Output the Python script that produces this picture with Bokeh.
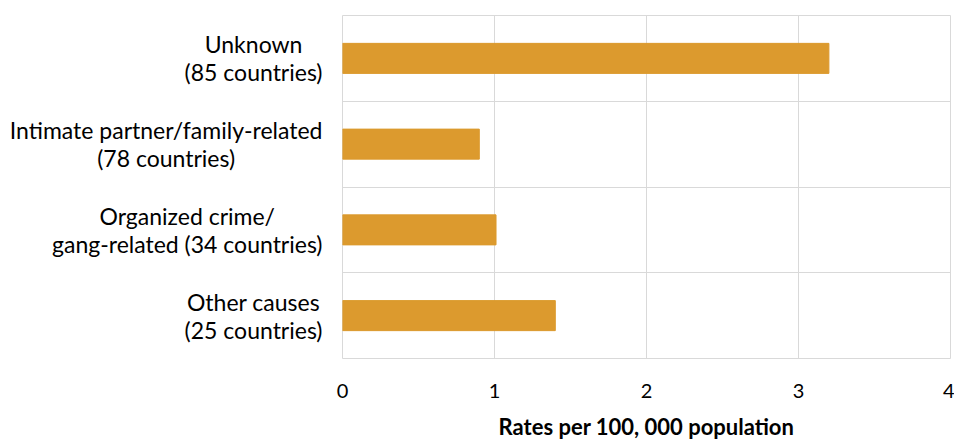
from bokeh.plotting import figure
from bokeh.models import FixedTicker, Range1d, ColumnDataSource, CustomJS
from bokeh.events import DocumentReady
from bokeh.layouts import row
from bokeh.document import Document
from bokeh.core.properties import value
from bokeh.embed import file_html
from bokeh.resources import INLINE

categories = [
    "Unknown\n(85 countries)",
    "Intimate partner/family-related\n(78 countries)",
    "Organized crime/\ngang-related (34 countries)",
    "Other causes\n(25 countries)",
]
rates = [3.2, 0.9, 1.01, 1.4]
x_ticks = [0, 1, 2, 3, 4]
x_title = "Rates per 100, 000 population"

BAR = "#DC9A2E"
GRID = "#D9D9D9"
FONT = "Lato"
LABEL_SIZE = 23
STANDOFF = 20
LINE_GAP = 28
LEFT_W = 330
MAIN_PAD = 12
TOP, FRAME_H, BOTTOM = 15, 343, 81

n = len(categories)
positions = [n - i - 0.5 for i in range(n)]
boundaries = list(range(n + 1))

# main chart
p = figure(
    x_range=Range1d(0, 4), y_range=Range1d(0, n),
    frame_width=608, frame_height=FRAME_H,
    min_border_left=MAIN_PAD, min_border_right=4, min_border_top=TOP, min_border_bottom=BOTTOM,
    output_backend="svg", toolbar_location=None,
)
p.hbar(y=positions, right=rates, left=0, height=0.35, color=BAR)

p.outline_line_color = GRID
p.xgrid.grid_line_color = GRID
p.xgrid.ticker = FixedTicker(ticks=x_ticks)
p.ygrid.grid_line_color = GRID
p.ygrid.ticker = FixedTicker(ticks=boundaries)
p.yaxis.visible = False

p.xaxis.ticker = FixedTicker(ticks=x_ticks)
p.xaxis.axis_line_color = None
p.xaxis.major_tick_line_color = None
p.xaxis.minor_tick_line_color = None
p.xaxis.major_label_text_font = FONT
p.xaxis.major_label_text_font_size = "20px"
p.xaxis.major_label_text_color = "black"
p.xaxis.major_label_standoff = 19
p.xaxis.axis_label = x_title
p.xaxis.axis_label_text_font = FONT
p.xaxis.axis_label_text_font_style = "bold"
p.xaxis.axis_label_text_font_size = "22px"
p.xaxis.axis_label_text_color = "black"
p.xaxis.axis_label_standoff = 12

# category label panel: each line centred within its block, block right-aligned
right_edge = LEFT_W + MAIN_PAD - STANDOFF
texts, ys, yoffs, groups, xs = [], [], [], [], []
for g, (cat, y) in enumerate(zip(categories, positions)):
    lines = cat.split("\n")
    k = len(lines)
    est = max(len(s) for s in lines) * LABEL_SIZE * 0.45
    for j, line in enumerate(lines):
        texts.append(line)
        ys.append(y)
        yoffs.append((j - (k - 1) / 2) * LINE_GAP)
        groups.append(g)
        xs.append(right_edge - est / 2)

src = ColumnDataSource(dict(text=texts, y=ys, x=xs, y_offset=yoffs, group=groups))

lp = figure(
    x_range=Range1d(0, LEFT_W), y_range=p.y_range,
    frame_width=LEFT_W, frame_height=FRAME_H,
    min_border_left=0, min_border_right=0, min_border_top=TOP, min_border_bottom=BOTTOM,
    output_backend="svg", toolbar_location=None,
)
lp.axis.visible = False
lp.grid.visible = False
lp.outline_line_color = None
lp.text(x="x", y="y", text="text", y_offset="y_offset", source=src,
        text_align="center", text_baseline="middle",
        text_font=value(FONT), text_font_size=f"{LABEL_SIZE}px", text_color="black")

cb = CustomJS(args=dict(src=src, font=f"{LABEL_SIZE}px {FONT}", right=right_edge), code="""
const ctx = document.createElement("canvas").getContext("2d");
ctx.font = font;
const d = src.data;
const txt = Array.from(d.text), grp = Array.from(d.group);
const maxw = {};
for (let i = 0; i < txt.length; i++) {
  const w = ctx.measureText(txt[i]).width;
  maxw[grp[i]] = Math.max(maxw[grp[i]] || 0, w);
}
const xs = txt.map((t, i) => right - maxw[grp[i]] / 2);
src.data = Object.assign({}, d, {x: xs});
""")

layout = row(lp, p)
doc = Document()
doc.add_root(layout)
doc.js_on_event(DocumentReady, cb)

open("out.html", "w").write(file_html(layout, INLINE))
